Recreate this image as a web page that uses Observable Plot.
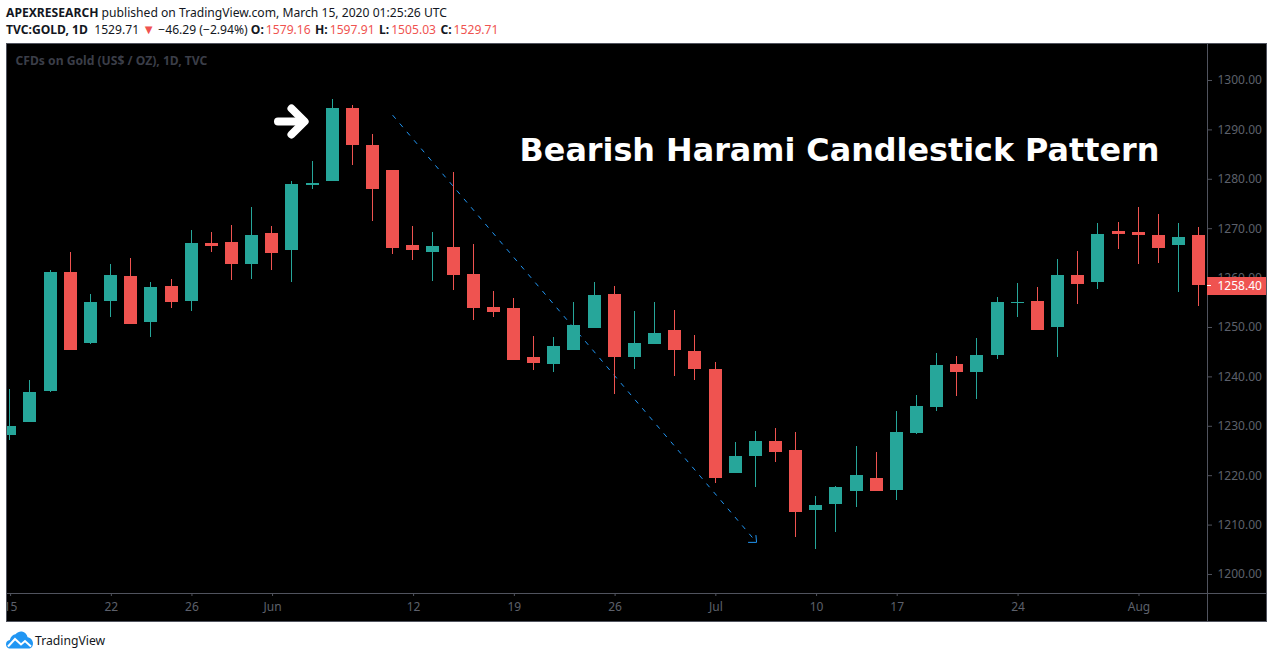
<!DOCTYPE html>
<html>
<head>
<meta charset="utf-8">
<script src="https://cdn.jsdelivr.net/npm/d3@7"></script>
<script src="https://cdn.jsdelivr.net/npm/@observablehq/plot@0.6"></script>
<style>
html,body{margin:0;padding:0;background:#fff;overflow:hidden}
body{width:1274px;height:658px;position:relative;font-family:"Noto Sans",sans-serif;color:#131722}
#head{position:absolute;left:6px;top:4px;font-size:12.13px;line-height:17px;white-space:nowrap}
#head b{font-weight:700}
#head .r{color:#ef5350}
#head .v{margin-left:2px;margin-right:1.2px}
#head .t{font-size:13px;line-height:10px}
#chart{position:absolute;left:6px;top:43px}
#foot{position:absolute;left:6px;top:630px;height:20px;display:flex;align-items:center;font-size:12.2px;color:#131722}
#foot svg{margin-right:2px;display:block}
</style>
</head>
<body>
<div id="head">
<div><b>APEXRESEARCH</b> published on TradingView.com, March 15, 2020 01:25:26 UTC</div>
<div><b>TVC:GOLD, 1D</b>&nbsp; 1529.71 <span class="r t">▼</span> −46.29 (−2.94%) <b>O:</b><span class="r v">1579.16</span> <b>H:</b><span class="r v">1597.91</span> <b>L:</b><span class="r v">1505.03</span> <b>C:</b><span class="r v">1529.71</span></div>
</div>
<div id="chart"></div>
<div id="foot">
<svg width="27" height="18" viewBox="0 0 27 18"><path fill="#2196f3" d="M3 17.5C0.8 16.8 0 15 0 13.2C0 10.8 1.8 9.2 3.8 9C4.6 5.6 7 3.6 9.5 3.2C11.6 1 14 0.2 16 0.6C19 1.2 21 3.4 21.6 6.2C24.6 6.6 27 9.2 27 12.4C27 15.4 25 17.5 22.6 17.5Z"/><path fill="none" stroke="#fff" stroke-width="2" d="M2 15.5L9 8L15 13.5L19 10L25 15.5"/></svg>
<span>TradingView</span>
</div>
<script>
const opens = [1228.14,1230.77,1237.04,1261.13,1246.76,1255.26,1260.32,1251.01,1258.29,1255.26,1267.00,1267.20,1262.75,1269.02,1265.58,1278.73,1279.54,1294.32,1286.83,1281.77,1266.59,1265.18,1266.18,1260.72,1254.04,1253.84,1243.92,1242.50,1245.34,1249.79,1256.67,1243.92,1246.55,1249.39,1245.14,1241.49,1220.44,1223.88,1226.92,1225.10,1212.95,1214.17,1216.80,1219.43,1217.00,1228.54,1233.80,1242.50,1240.88,1244.33,1254.85,1255.26,1249.99,1260.52,1259.10,1269.42,1269.22,1268.61,1266.59,1268.61];
const highs = [1237.45,1239.27,1261.54,1265.18,1256.68,1262.75,1263.97,1259.11,1259.71,1269.63,1269.22,1270.64,1274.28,1270.44,1279.54,1283.59,1296.14,1294.93,1289.06,1281.77,1270.44,1269.22,1281.36,1266.79,1257.28,1255.86,1248.17,1247.97,1255.06,1259.10,1258.29,1253.23,1255.06,1253.43,1248.37,1242.91,1226.72,1228.94,1229.55,1228.74,1215.79,1217.81,1225.91,1224.69,1232.99,1236.23,1244.73,1244.12,1247.77,1256.06,1258.90,1258.09,1263.76,1265.38,1271.04,1271.24,1274.28,1272.86,1271.04,1270.23];
const lows = [1227.13,1230.77,1236.84,1245.34,1246.56,1252.02,1250.60,1247.97,1253.84,1253.23,1265.18,1259.51,1259.71,1261.53,1259.10,1277.92,1279.54,1282.78,1271.45,1264.77,1263.55,1259.30,1257.48,1251.41,1252.02,1243.31,1241.29,1240.88,1245.34,1249.79,1236.43,1241.49,1246.55,1240.08,1239.27,1218.42,1220.44,1217.61,1222.67,1207.49,1205.06,1208.50,1213.56,1216.80,1214.98,1228.34,1232.99,1236.03,1235.42,1243.52,1252.02,1249.39,1243.92,1254.65,1257.68,1265.78,1262.75,1262.95,1257.08,1254.24];
const closes = [1229.96,1236.84,1261.13,1245.34,1255.06,1260.53,1250.60,1258.09,1255.06,1267.00,1266.39,1262.75,1268.61,1264.97,1278.94,1279.14,1294.32,1286.83,1277.92,1265.98,1265.58,1266.39,1260.52,1253.84,1253.03,1243.31,1242.71,1246.15,1250.40,1256.47,1243.92,1246.75,1248.78,1245.34,1241.49,1219.43,1223.88,1226.92,1224.69,1212.55,1213.97,1217.61,1220.04,1216.80,1228.74,1234.00,1242.30,1240.88,1244.33,1255.06,1255.06,1249.39,1260.52,1258.70,1268.82,1268.82,1268.61,1265.98,1268.21,1258.40];
const tickIndex = [0,5,9,13,20,25,30,35,40,44,50,56];
const tickLabels = ["15","22","26","Jun","12","19","26","Jul","10","17","24","Aug"];
const priceTicks = [1200,1210,1220,1230,1240,1250,1260,1270,1280,1290,1300];
const lastPrice = 1258.40;
const titleText = "Bearish Harami Candlestick Pattern";
const watermark = "CFDs on Gold (US$ / OZ), 1D, TVC";
const trendX = [19.01,37.06];
const trendY = [1292.93,1206.5];
const trendHeadX = [36.66,37.06,37.03];
const trendHeadY = [1206.5,1206.5,1207.9];
const arrowShaftX = [13.31,14.58];
const arrowShaftY = [1291.7,1291.7];
const arrowHeadX = [13.98,14.63,13.98];
const arrowHeadY = [1294.33,1291.7,1289.07];

const xDomain = [-0.164,59.44];
const yDomain = [1196.15,1307.49];
const xEnd = 62.42, yEnd = 1190.28;
const idx = opens.map((_,i)=>i);
const axisCol = "#50535e", textCol = "#5d606b";
const dir = i => closes[i] >= opens[i] ? "up" : "down";

const pt = (xs,ys) => xs.map((x,i)=>({x,y:ys[i]}));

const plot = Plot.plot({
  width:1261, height:579,
  marginLeft:0, marginRight:60, marginTop:0, marginBottom:29,
  x:{type:"linear",domain:xDomain,range:[0,1201],axis:null},
  y:{type:"linear",domain:yDomain,range:[550,0],axis:null},
  color:{domain:["up","down"],range:["#26a69a","#ef5350"]},
  style:{background:"#000",display:"block",overflow:"hidden",fontFamily:"'Noto Sans',sans-serif"},
  marks:[
    Plot.line(pt(trendX,trendY),{x:"x",y:"y",stroke:"#2196f3",strokeWidth:1,strokeDasharray:"4,7",clip:true}),
    Plot.line(pt(trendHeadX,trendHeadY),{x:"x",y:"y",stroke:"#2196f3",strokeWidth:1,clip:true}),
    Plot.ruleX(idx,{x:d=>d,y1:i=>lows[i],y2:i=>highs[i],stroke:dir,strokeWidth:1,shapeRendering:"crispEdges",clip:true}),
    Plot.ruleX(idx,{x:d=>d,y1:i=>opens[i],y2:i=>closes[i],stroke:dir,strokeWidth:13,shapeRendering:"crispEdges",clip:true}),
    Plot.line(pt(arrowShaftX,arrowShaftY),{x:"x",y:"y",stroke:"#fff",strokeWidth:8,strokeLinecap:"round"}),
    Plot.line(pt(arrowHeadX,arrowHeadY),{x:"x",y:"y",stroke:"#fff",strokeWidth:8,strokeLinecap:"round",strokeLinejoin:"round"}),
    Plot.text([titleText],{x:25.3,y:1285.8,text:d=>d,fill:"#fff",fontSize:31.8,fontWeight:"bold",fontFamily:"'DejaVu Sans',sans-serif",textAnchor:"start",lineAnchor:"middle"}),
    Plot.text([watermark],{frameAnchor:"top-left",dx:9,dy:13,text:d=>d,fill:"#3b3e48",fontSize:12.13,fontWeight:"bold",textAnchor:"start",lineAnchor:"top"}),
    Plot.ruleX([xDomain[1]],{y1:yEnd,y2:yDomain[1],stroke:axisCol,strokeWidth:1,shapeRendering:"crispEdges",clip:false}),
    Plot.ruleY([yDomain[0]],{x1:xDomain[0],x2:xEnd,stroke:axisCol,strokeWidth:1,shapeRendering:"crispEdges"}),
    Plot.axisY({anchor:"right",ticks:priceTicks,tickFormat:d3.format(".2f"),tickSize:4,tickPadding:6,stroke:axisCol,fill:textCol,fontSize:12,label:null}),
    Plot.axisX({anchor:"bottom",ticks:tickIndex,tickFormat:(d)=>tickLabels[tickIndex.indexOf(d)],tickSize:3,tickPadding:6,dx:0.8,stroke:axisCol,fill:textCol,fontSize:12,label:null}),
    Plot.ruleY([lastPrice],{x1:xDomain[1],x2:xEnd,stroke:"#ef5350",strokeWidth:18,shapeRendering:"crispEdges"}),
    Plot.ruleY([lastPrice],{x1:xDomain[1],x2:59.64,stroke:"#fff",strokeWidth:1,shapeRendering:"crispEdges"}),
    Plot.text([lastPrice],{x:xDomain[1],y:d=>d,dx:10,text:d=>d.toFixed(2),fill:"#fff",fontSize:12,textAnchor:"start"})
  ]
});
plot.style.outline = "1px solid " + axisCol;
plot.style.outlineOffset = "-1px";
document.getElementById("chart").appendChild(plot);
</script>
</body>
</html>
